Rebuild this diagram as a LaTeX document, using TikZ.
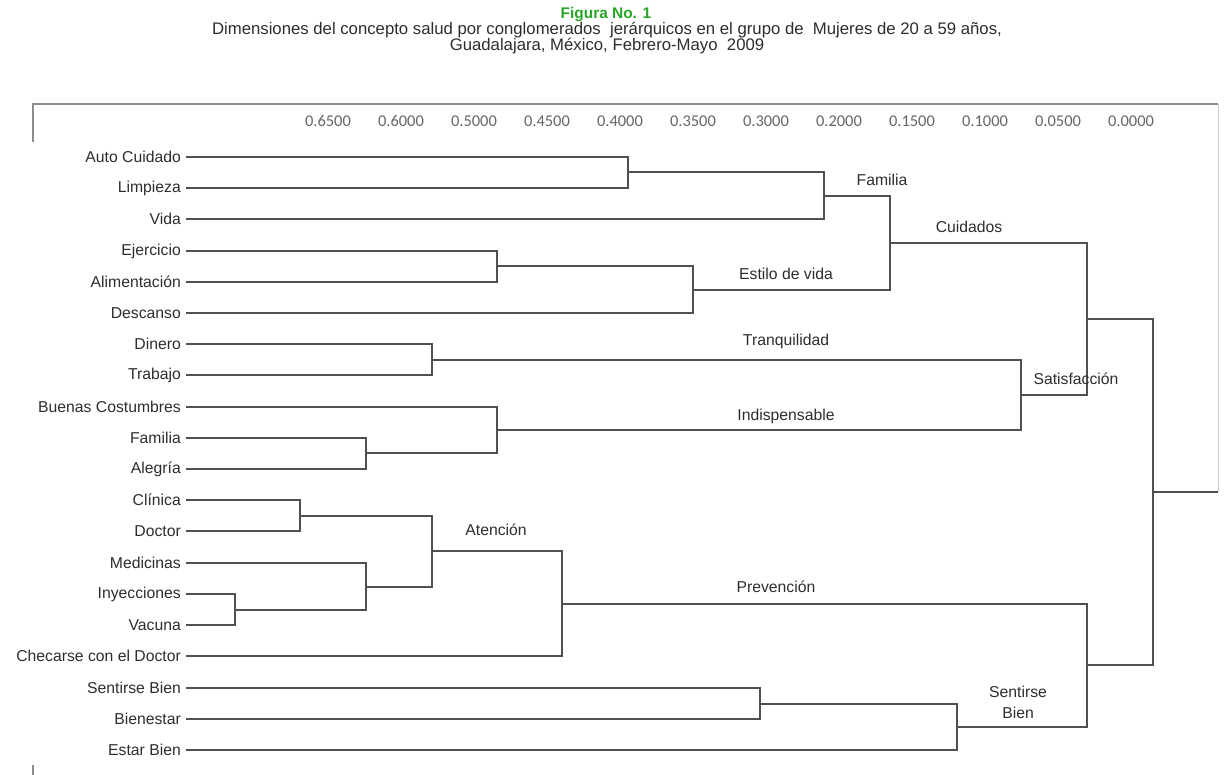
\documentclass[tikz,border=0pt]{standalone}
\usepackage{fontspec}
\setmainfont{Liberation Sans}
\newfontfamily\tickfamily{Carlito}
\usepackage{xcolor}
\usepackage{tikz}
\usetikzlibrary{positioning,calc}
\definecolor{titlegreen}{RGB}{40,165,40}
\definecolor{linegray}{RGB}{80,80,80}
\definecolor{textgray}{RGB}{45,45,45}
\newcommand\leaffont{\fontsize{15.8}{17}\selectfont}
\newcommand\tickfont{\tickfamily\fontsize{16.5}{18}\selectfont}
\tikzset{
  leaf/.style={anchor=east,inner xsep=5pt,inner ysep=0pt,font=\leaffont,text=textgray},
  grp/.style={inner sep=0pt,font=\leaffont,text=textgray,align=center},
  tick/.style={inner sep=0pt,font=\tickfont,text=black!60},
  lnk/.style={draw=linegray,line width=2bp},
  frame/.style={draw=black!45,line width=1.2bp},
  hdr/.style={inner sep=0pt,font=\fontsize{16.8}{18}\selectfont,text=textgray}
}

\begin{document}
\begin{tikzpicture}[x=1bp,y=-1bp]
    \useasboundingbox (0,0) rectangle (1228,775);
    % title
    \node[hdr,font=\bfseries\fontsize{15.5}{17}\selectfont,text=titlegreen] (fig) at (606,15) {Figura No. 1};
    \node[hdr] (sub1) at (607,30) {Dimensiones del concepto salud por conglomerados \ jer\'arquicos en el grupo de \ Mujeres de 20 a 59 a\~nos,};
    \node[hdr] (sub2) at (607,46) {Guadalajara, M\'exico, Febrero-Mayo \ 2009};

    % frame
    \draw[frame] (33,142) |- (1218,104);
    \draw[draw=black!20,line width=1bp] (1218,104) -- (1218,492);
    \draw[frame] (33,765) -- (33,775);

    % scale
    \node[tick] (t65) at (328,121) {0.6500};
    \node[tick] (t60) at (401,121) {0.6000};
    \node[tick] (t50) at (474,121) {0.5000};
    \node[tick] (t45) at (547,121) {0.4500};
    \node[tick] (t40) at (620,121) {0.4000};
    \node[tick] (t35) at (693,121) {0.3500};
    \node[tick] (t30) at (766,121) {0.3000};
    \node[tick] (t20) at (839,121) {0.2000};
    \node[tick] (t15) at (912,121) {0.1500};
    \node[tick] (t10) at (985,121) {0.1000};
    \node[tick] (t05) at (1058,121) {0.0500};
    \node[tick] (t00) at (1131,121) {0.0000};

    % leaves
    \node[leaf] (autoc) at (186,157) {Auto Cuidado};
    \node[leaf] (limp) at (186,188) {Limpieza};
    \node[leaf] (vida) at (186,219) {Vida};
    \node[leaf] (ejer) at (186,251) {Ejercicio};
    \node[leaf] (alim) at (186,282) {Alimentaci\'on};
    \node[leaf] (desc) at (186,313) {Descanso};
    \node[leaf] (din) at (186,344) {Dinero};
    \node[leaf] (trab) at (186,375) {Trabajo};
    \node[leaf] (bcos) at (186,407) {Buenas Costumbres};
    \node[leaf] (famil) at (186,438) {Familia};
    \node[leaf] (aleg) at (186,469) {Alegr\'ia};
    \node[leaf] (clin) at (186,500) {Cl\'inica};
    \node[leaf] (doc) at (186,531) {Doctor};
    \node[leaf] (med) at (186,563) {Medicinas};
    \node[leaf] (iny) at (186,594) {Inyecciones};
    \node[leaf] (vac) at (186,625) {Vacuna};
    \node[leaf] (chk) at (186,656) {Checarse con el Doctor};
    \node[leaf] (sbien) at (186,688) {Sentirse Bien};
    \node[leaf] (bnest) at (186,719) {Bienestar};
    \node[leaf] (ebien) at (186,750) {Estar Bien};

    % joins
    \coordinate (mac) at (628,172);
    \coordinate (mfam) at (824,196);
    \coordinate (mea) at (497,266);
    \coordinate (mest) at (693,290);
    \coordinate (mcui) at (890,243);
    \coordinate (mdt) at (432,360);
    \coordinate (mfa) at (366,453);
    \coordinate (mind) at (497,430);
    \coordinate (msat) at (1021,395);
    \coordinate (mcs) at (1087,319);
    \coordinate (mcd) at (300,516);
    \coordinate (miv) at (235,610);
    \coordinate (mmed) at (366,587);
    \coordinate (mat) at (432,551);
    \coordinate (mchk) at (562,604);
    \coordinate (msb) at (760,704);
    \coordinate (mbien) at (957,727);
    \coordinate (mpv) at (1087,665);
    \coordinate (mroot) at (1153,492);
    \coordinate (rootend) at (1218,492);

    \draw[lnk] (autoc.east) -| (mac) |- (limp.east);
    \draw[lnk] (mac) -| (mfam) |- (vida.east);
    \draw[lnk] (ejer.east) -| (mea) |- (alim.east);
    \draw[lnk] (mea) -| (mest) |- (desc.east);
    \draw[lnk] (mfam) -| (mcui) |- (mest);
    \draw[lnk] (din.east) -| (mdt) |- (trab.east);
    \draw[lnk] (famil.east) -| (mfa) |- (aleg.east);
    \draw[lnk] (bcos.east) -| (mind) |- (mfa);
    \draw[lnk] (mdt) -| (msat) |- (mind);
    \draw[lnk] (mcui) -| (mcs) |- (msat);
    \draw[lnk] (clin.east) -| (mcd) |- (doc.east);
    \draw[lnk] (iny.east) -| (miv) |- (vac.east);
    \draw[lnk] (med.east) -| (mmed) |- (miv);
    \draw[lnk] (mcd) -| (mat) |- (mmed);
    \draw[lnk] (mat) -| (mchk) |- (chk.east);
    \draw[lnk] (sbien.east) -| (msb) |- (bnest.east);
    \draw[lnk] (msb) -| (mbien) |- (ebien.east);
    \draw[lnk] (mchk) -| (mpv) |- (mbien);
    \draw[lnk] (mcs) -| (mroot) |- (mpv);
    \draw[lnk] (mroot) -- (rootend);

    % group names
    \node[grp] (lfam) at (882,180) {Familia};
    \node[grp] (lcui) at (969,227) {Cuidados};
    \node[grp] (lest) at (786,274) {Estilo de vida};
    \node[grp] (ltra) at (786,341) {Tranquilidad};
    \node[grp] (lsat) at (1076,379) {Satisfacci\'on};
    \node[grp] (lind) at (786,416) {Indispensable};
    \node[grp] (late) at (496,530) {Atenci\'on};
    \node[grp] (lpre) at (776,587) {Prevenci\'on};
    \node[grp] (lsb) at (1018,702) {Sentirse\\[4pt]Bien};
  \end{tikzpicture}
\end{document}
